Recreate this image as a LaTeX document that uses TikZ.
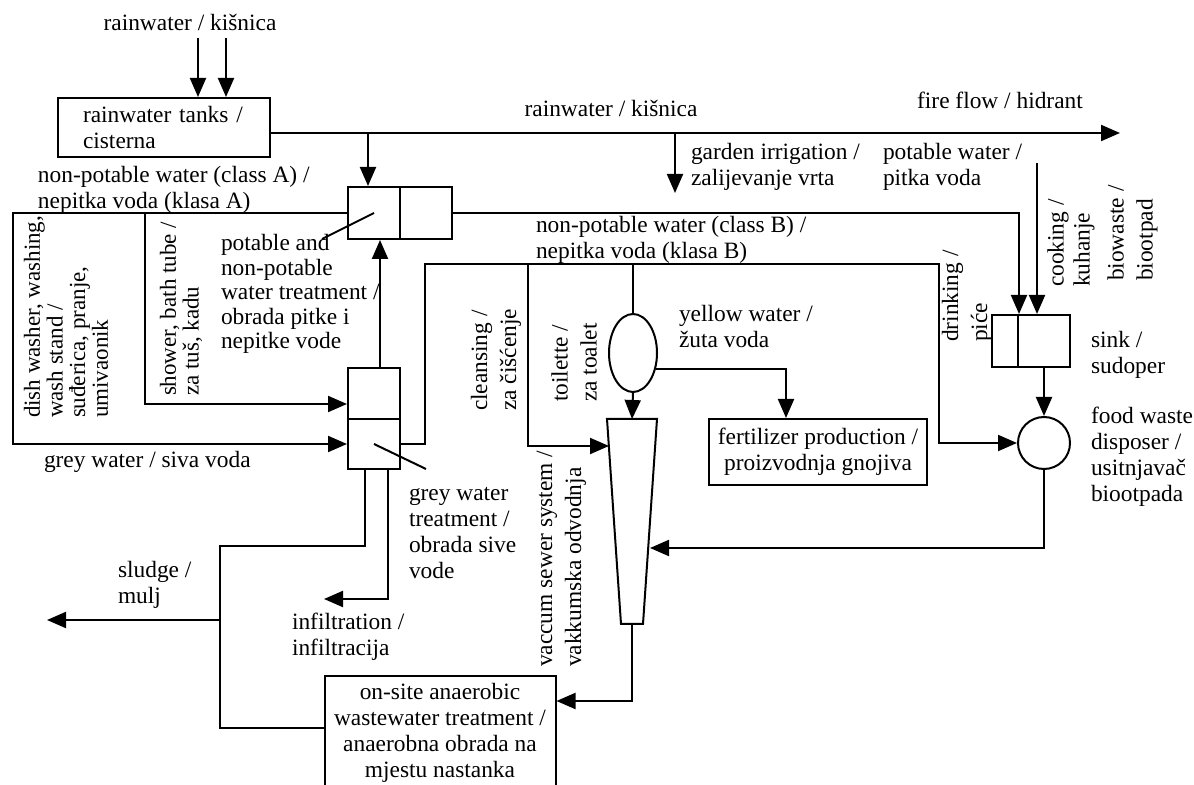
\documentclass[tikz,border=0pt]{standalone}
\usepackage{fontspec}
\setmainfont{Liberation Serif}
\usetikzlibrary{arrows.meta,shapes.geometric}
\begin{document}
\begin{tikzpicture}[x=0.5pt,y=-0.5pt,line width=1pt,
  font=\fontsize{11.7}{13}\selectfont,
  flow/.style={-{Triangle[length=9.5pt,width=8pt]}},
  box/.style={draw,inner sep=0pt},
  lbl/.style={anchor=west,align=left,inner sep=0pt},
  vlbl/.style={lbl,rotate=90},
  tight/.style={font=\fontsize{11.5}{11.3}\selectfont},
  wide/.style={font=\fontsize{11.7}{14.5}\selectfont}]
\useasboundingbox (0,0) rectangle (1194,785);
% rainwater tanks and inflow
\node[box,minimum width=106pt,minimum height=29.5pt,align=left,text width=81pt] (tanks) at (164,127.5) {rainwater tanks /\\cisterna};
\node (rainin) at (190,22) {rainwater / kišnica};
\coordinate (rain1) at (198,38);
\coordinate (rain2) at (226,38);
\draw[flow] (rain1) -- (rain1 |- tanks.north);
\draw[flow] (rain2) -- (rain2 |- tanks.north);
% main rainwater line
\coordinate (fire) at (1120,133);
\draw[flow] (tanks.east |- fire) -- (fire);
\node (rainlbl) at (611,108) {rainwater / kišnica};
\node (firelbl) at (1000,100) {fire flow / hidrant};
\coordinate (garden) at (675,193);
\draw[flow] (garden |- fire) -- (garden);
\node[lbl] (gardenlbl) at (690,167) {garden irrigation /\\zalijevanje vrta};
% potable and non-potable treatment
\node[box,minimum size=26pt] (tpl) at (374,213) {};
\node[box,minimum size=26pt] (tpr) at (426,213) {};
\coordinate (tap1) at (368,133);
\draw[flow] (tap1) -- (tap1 |- tpl.north);
\draw (tpl.center) -- (322,239);
\node[lbl,font=\fontsize{11.7}{12.2}\selectfont] (treatlbl) at (220,294) {potable and\\non-potable\\water treatment /\\obrada pitke i\\nepitke vode};
\node[lbl] (classA) at (37,190) {non-potable water (class A) /\\nepitka voda (klasa A)};
% grey water treatment
\node[box,minimum width=26pt,minimum height=25.5pt] (gtop) at (374,393.5) {};
\node[box,minimum width=26pt,minimum height=25pt] (gbot) at (374,444) {};
\draw (gbot.center) -- (426,469);
\draw[flow] (tpl.west) -- (13,213) |- (gbot.west);
\draw[flow] (145,213) |- (gtop.west |- 0,404);
\draw[flow] (380,0 |- gtop.north) -- (380,0 |- tpl.south);
\node[vlbl,tight] (dishlbl) at (66,419) {dish washer,  washing,\\wash stand /\\suđerica, pranje,\\umivaonik};
\node[vlbl,tight] (showerlbl) at (181,397) {shower, bath tube /\\za tuš, kadu};
\node[lbl] (greylbl) at (43,462) {grey water / siva voda};
\node[lbl] (gtreatlbl) at (408,533) {grey water\\treatment /\\obrada sive\\vode};
% sink and food waste disposer
\node[box,minimum width=13pt,minimum height=26pt] (sl) at (1005,341) {};
\node[box,minimum size=26pt] (sr) at (1044,341) {};
\node[draw,circle,inner sep=0pt,minimum size=26pt] (disp) at (1044,443) {};
\draw[flow] (tpr.east) -| (sl.north east);
\coordinate (potable) at (1037,163);
\draw[flow] (potable) -- (potable |- sr.north);
\draw[flow] (sr.south) -- (disp.north);
\node[lbl] (potlbl) at (882,167) {potable water /\\pitka voda};
\node[vlbl,wide] (drinklbl) at (967,343) {drinking /\\piće};
\node[vlbl] (cooklbl) at (1071,288) {cooking /\\kuhanje};
\node[vlbl,wide] (biolbl) at (1132.5,282) {biowaste /\\biootpad};
\node[lbl] (sinklbl) at (1090,355) {sink /\\sudoper};
\node[lbl] (displbl) at (1090,457) {food waste\\disposer /\\usitnjavač\\biootpada};
% class B line and vacuum sewer
\coordinate (ctl) at (607,419);
\coordinate (ctr) at (657,419);
\coordinate (cbr) at (643,624);
\coordinate (cbl) at (621,624);
\draw (ctl) -- (ctr) -- (cbr) -- (cbl) -- cycle;
\coordinate (cin) at (632,419);
\coordinate (cout) at (632,624);
\node[draw,ellipse,inner sep=0pt,minimum width=24pt,minimum height=39pt] (sep) at (633,353) {};
\node[box,minimum width=109pt,minimum height=33pt,align=center] (fert) at (818,452) {fertilizer production /\\proizvodnja gnojiva};
\draw[flow] (gbot.east) -- (425,0 |- gbot.east) |- (939,264) |- (disp.west);
\draw[flow] (528,264) |- (609,446);
\draw (633,264) -- (sep.north);
\draw[flow] (sep.south) -- (cin);
\draw[flow] (sep.-34) -| (786,0 |- fert.north);
\draw[flow] (disp.south) |- (650,548);
\node[lbl] (classB) at (535,240) {non-potable water (class B) /\\nepitka voda (klasa B)};
\node[vlbl,wide] (cleanlbl) at (496,412) {cleansing /\\za čišćenje};
\node[vlbl,wide] (toiletlbl) at (574,403) {toilette /\\za toalet};
\node[vlbl,wide] (vaclbl) at (561.5,668) {vaccum sewer system /\\vakkumska odvodnja};
\node[lbl] (yellowlbl) at (678,326) {yellow water /\\žuta voda};
% anaerobic treatment, sludge, infiltration
\node[box,minimum width=115.5pt,minimum height=57pt,align=center] (anae) at (440,733) {on-site anaerobic\\wastewater treatment /\\anaerobna obrada na\\mjestu nastanka};
\draw[flow] (cout) |- (anae.east |- 0,701);
\draw (anae.west |- 0,728) -| (220,546) -| (365,0 |- gbot.south);
\coordinate (sludge) at (47,620);
\draw[flow] (220,620) -- (sludge);
\coordinate (infil) at (324,599);
\draw[flow] (388,0 |- gbot.south) |- (infil);
\node[lbl] (sludgelbl) at (117,585) {sludge /\\mulj};
\node[lbl] (infillbl) at (291,637) {infiltration /\\infiltracija};
\end{tikzpicture}
\end{document}
